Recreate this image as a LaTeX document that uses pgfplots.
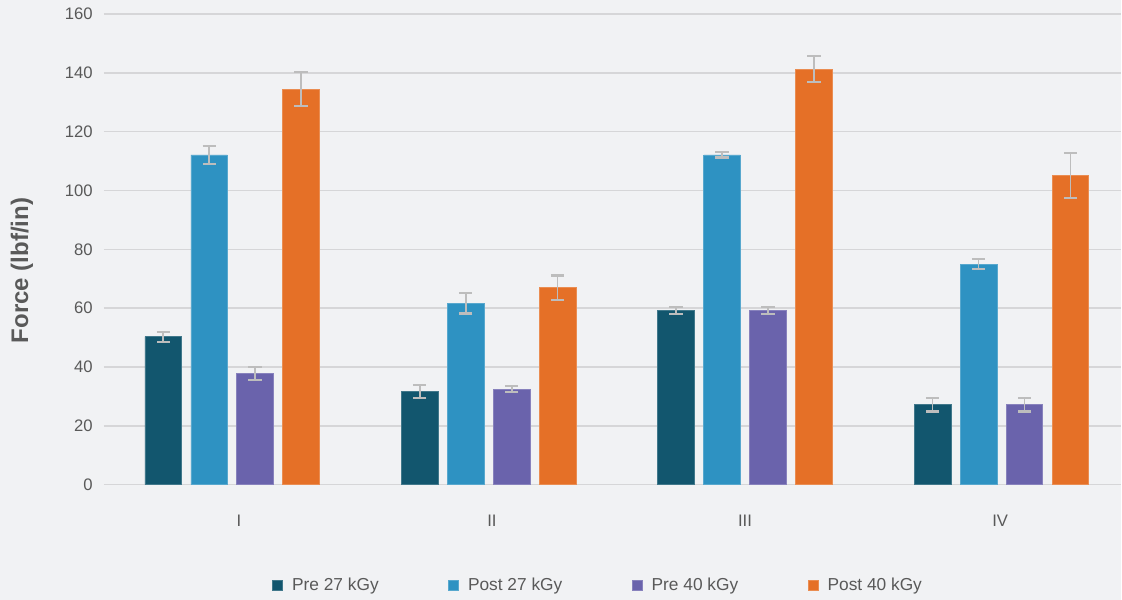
\documentclass[border=0pt]{standalone}
\usepackage{pgfplots}
\pgfplotsset{compat=1.18}
\usepackage{fontspec}
\setmainfont{Liberation Sans}
\usetikzlibrary{backgrounds}
\definecolor{bgc}{HTML}{F1F2F4}
\definecolor{gridc}{HTML}{D6D6D8}
\definecolor{txt}{HTML}{595959}
\definecolor{cA}{HTML}{12566E}
\definecolor{cB}{HTML}{2E92C2}
\definecolor{cC}{HTML}{6A63AC}
\definecolor{cD}{HTML}{E57027}
\definecolor{errc}{HTML}{BDBDBD}
\begin{document}
\begin{tikzpicture}
\begin{axis}[
  scale only axis,
  width=763.5pt, height=353.25pt,
  xmin=-0.5, xmax=3.467,
  ymin=0, ymax=160,
  ytick={0,20,...,160},
  xtick={0.026,1.013,2.0,2.995},
  xticklabels={I,II,III,IV},
  ybar=7pt, bar width=27.5pt,
  axis line style={draw=none},
  major tick length=0pt,
  ymajorgrids, grid style={gridc, line width=1.1pt},
  tick label style={font=\fontsize{12.5}{15}\selectfont, text=txt},
  /pgf/number format/assume math mode=true,
  yticklabel style={xshift=-5pt},
  xticklabel style={yshift=-19.5pt},
  every axis y label/.style={at={(axis description cs:-0.0806,0.455)}, rotate=90, anchor=center},
  ylabel={\bfseries Force (lbf/in)},
  ylabel style={font=\fontsize{18}{21}\selectfont, text=txt},
  legend columns=-1,
  legend style={at={(axis description cs:0.486,-0.2144)}, anchor=center, draw=none, fill=none,
    font=\fontsize{13}{15}\selectfont, text=txt,
    /tikz/every odd column/.append style={column sep=5pt},
    /tikz/every even column/.append style={column sep=50pt}},
  legend image code/.code={\fill[#1] (0pt,-3.75pt) rectangle (7.5pt,3.75pt);},
  error bars/y dir=both, error bars/y explicit,
  error bars/error bar style={errc, line width=1.4pt},
  error bars/error mark options={errc, line width=1.6pt, mark size=5pt, rotate=90},
]
\coordinate (bl) at (axis description cs:-0.10216,-0.24416);
\coordinate (tr) at (axis description cs:1.0,1.02972);
\addplot[fill=cA, draw=cA!80!white, line width=0.5pt] coordinates {
  (0,50.3) +- (0,1.7)
  (1,31.7) +- (0,2.1)
  (2,59.1) +- (0,1.2)
  (3,27.2) +- (0,2.3)
};
\addplot[fill=cB, draw=cB!80!white, line width=0.5pt] coordinates {
  (0,112.1) +- (0,3.0)
  (1,61.7) +- (0,3.5)
  (2,112.1) +- (0,0.9)
  (3,75.0) +- (0,1.8)
};
\addplot[fill=cC, draw=cC!80!white, line width=0.5pt] coordinates {
  (0,37.7) +- (0,2.2)
  (1,32.5) +- (0,1.0)
  (2,59.1) +- (0,1.2)
  (3,27.2) +- (0,2.3)
};
\addplot[fill=cD, draw=cD!80!white, line width=0.5pt] coordinates {
  (0,134.5) +- (0,5.8)
  (1,67.0) +- (0,4.1)
  (2,141.3) +- (0,4.5)
  (3,105.1) +- (0,7.6)
};
\legend{Pre 27 kGy, Post 27 kGy, Pre 40 kGy, Post 40 kGy}
\end{axis}
\begin{scope}[on background layer]
\fill[bgc] (bl) rectangle (tr);
\end{scope}
\useasboundingbox (bl) rectangle (tr);
\end{tikzpicture}
\end{document}
